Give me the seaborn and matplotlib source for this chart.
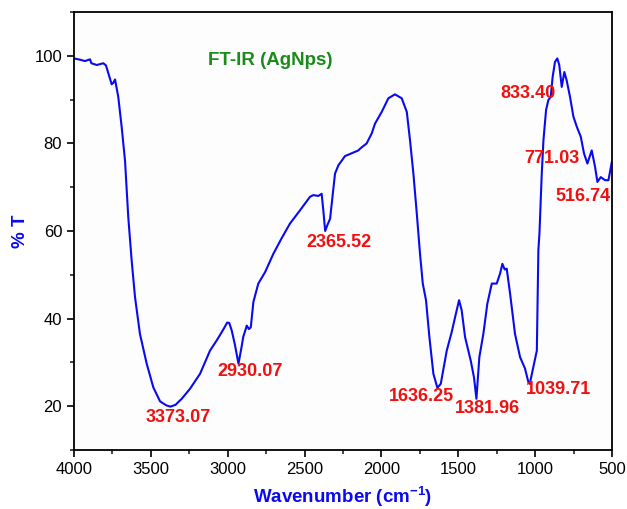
import matplotlib
matplotlib.use("Agg")
import matplotlib.pyplot as plt
import seaborn as sns
import pandas as pd
from matplotlib.ticker import MultipleLocator

wavenumber = [4000, 3960, 3928, 3896, 3887, 3852, 3809, 3792, 3770, 3755, 3745, 3733,
              3712, 3690, 3668, 3647, 3625, 3603, 3571, 3527, 3484, 3440, 3400, 3373,
              3340, 3299, 3245, 3180, 3115, 3072, 3039, 3003, 2990, 2974, 2953, 2930,
              2910, 2899, 2876, 2862, 2850, 2833, 2801, 2757, 2703, 2650, 2595, 2530,
              2465, 2443, 2411, 2389, 2378, 2366, 2350, 2334, 2302, 2280, 2237, 2150,
              2139, 2096, 2063, 2042, 1998, 1955, 1912, 1868, 1835, 1814, 1792, 1770,
              1749, 1731, 1710, 1688, 1662, 1636, 1614, 1575, 1543, 1521, 1495, 1478,
              1456, 1419, 1398, 1382, 1363, 1337, 1311, 1282, 1250, 1228, 1213, 1198,
              1185, 1163, 1131, 1098, 1066, 1044, 1035, 989, 979, 972, 957, 946, 929,
              914, 899, 886, 871, 856, 843, 827, 810, 795, 773, 751, 729, 703, 682,
              660, 632, 610, 595, 573, 545, 523, 501]
transmittance = [99.4, 99.1, 98.8, 99.2, 98.3, 97.9, 98.3, 97.8, 95.2, 93.5, 93.8, 94.6,
                 90.6, 83.8, 76.0, 63.2, 53.3, 44.9, 36.5, 29.7, 24.3, 21.1, 20.2, 19.9,
                 20.3, 21.7, 24.0, 27.4, 32.7, 35.0, 36.9, 39.1, 39.0, 37.3, 34.0, 29.7,
                 33.5, 35.8, 38.4, 37.6, 38.0, 43.8, 48.0, 50.6, 54.8, 58.3, 61.7, 64.7,
                 67.8, 68.2, 68.0, 68.5, 64.7, 60.0, 61.5, 62.8, 73.1, 75.0, 77.1, 78.4,
                 78.8, 80.0, 82.3, 84.5, 87.2, 90.3, 91.2, 90.3, 87.2, 80.7, 73.1, 64.0,
                 54.8, 48.0, 44.2, 35.8, 27.4, 24.2, 25.1, 32.7, 36.9, 40.3, 44.2, 41.9,
                 35.8, 30.4, 26.6, 21.7, 31.2, 36.5, 43.4, 48.0, 48.0, 50.3, 52.5, 51.2,
                 51.4, 45.7, 36.5, 31.2, 28.6, 25.5, 25.1, 32.7, 55.6, 59.4, 73.1, 80.7, 87.6,
                 89.9, 90.6, 95.2, 98.6, 99.4, 97.9, 92.9, 96.3, 94.4, 90.6, 86.1, 83.8, 81.5, 77.7,
                 75.4, 78.4, 74.6, 71.2, 72.3, 71.6, 71.6, 75.8]

peak_labels = ["3373.07", "2930.07", "2365.52", "1636.25", "1381.96",
               "1039.71", "833.40", "771.03", "516.74"]
peak_label_x = [3319, 2855, 2277, 1738, 1310, 849, 1046, 892, 686]
peak_label_y = [17.5, 28.0, 57.3, 22.3, 19.4, 23.8, 91.4, 76.5, 67.8]

title_text = "FT-IR (AgNps)"
x_ticks = [4000, 3500, 3000, 2500, 2000, 1500, 1000, 500]
y_ticks = [20, 40, 60, 80, 100]

sns.set_style("ticks")
plt.rcParams['font.family'] = ['Liberation Sans', 'DejaVu Sans']
plt.rcParams['mathtext.fontset'] = 'custom'
plt.rcParams['mathtext.bf'] = 'Liberation Sans:bold'
plt.rcParams['mathtext.rm'] = 'Liberation Sans'

df = pd.DataFrame({"wn": wavenumber, "T": transmittance})

fig = plt.figure(figsize=(6.27, 5.09), dpi=100)
fig.patch.set_facecolor("white")
ax = fig.add_axes([74/627, 59/509, (612-74)/627, (450-12)/509])
ax.set_facecolor("#fdfdfd")

sns.lineplot(data=df, x="wn", y="T", sort=False, estimator=None,
             color="#0a0af0", linewidth=1.5, ax=ax)

ax.set_xlim(4000, 500)
ax.set_ylim(10, 110)
ax.set_xticks(x_ticks)
ax.set_yticks(y_ticks)
ax.xaxis.set_minor_locator(MultipleLocator(250))
ax.yaxis.set_minor_locator(MultipleLocator(10))
ax.tick_params(axis="both", which="major", direction="out", length=5, width=1.2,
               labelsize=12, colors="black", top=False, right=False)
ax.tick_params(axis="both", which="minor", direction="out", length=3, width=1.2,
               top=False, right=False)
for s in ax.spines.values():
    s.set_visible(True)
    s.set_linewidth(1.3)
    s.set_color("black")

ax.set_xlabel("Wavenumber (cm$^{\\mathbf{-1}}$)", fontsize=13.5, fontweight="bold",
              color="#0a0af0", labelpad=5)
ax.set_ylabel("% T", fontsize=13.5, fontweight="bold", color="#0a0af0", labelpad=4)

ax.text(2725, 99.0, title_text, ha="center", va="center", fontsize=13.5,
        fontweight="bold", color="#1a8c1a")

for lab, lx, ly in zip(peak_labels, peak_label_x, peak_label_y):
    ax.text(lx, ly, lab, ha="center", va="center", fontsize=13,
            fontweight="bold", color="#f01010")

fig.savefig("out.png", dpi=100)
